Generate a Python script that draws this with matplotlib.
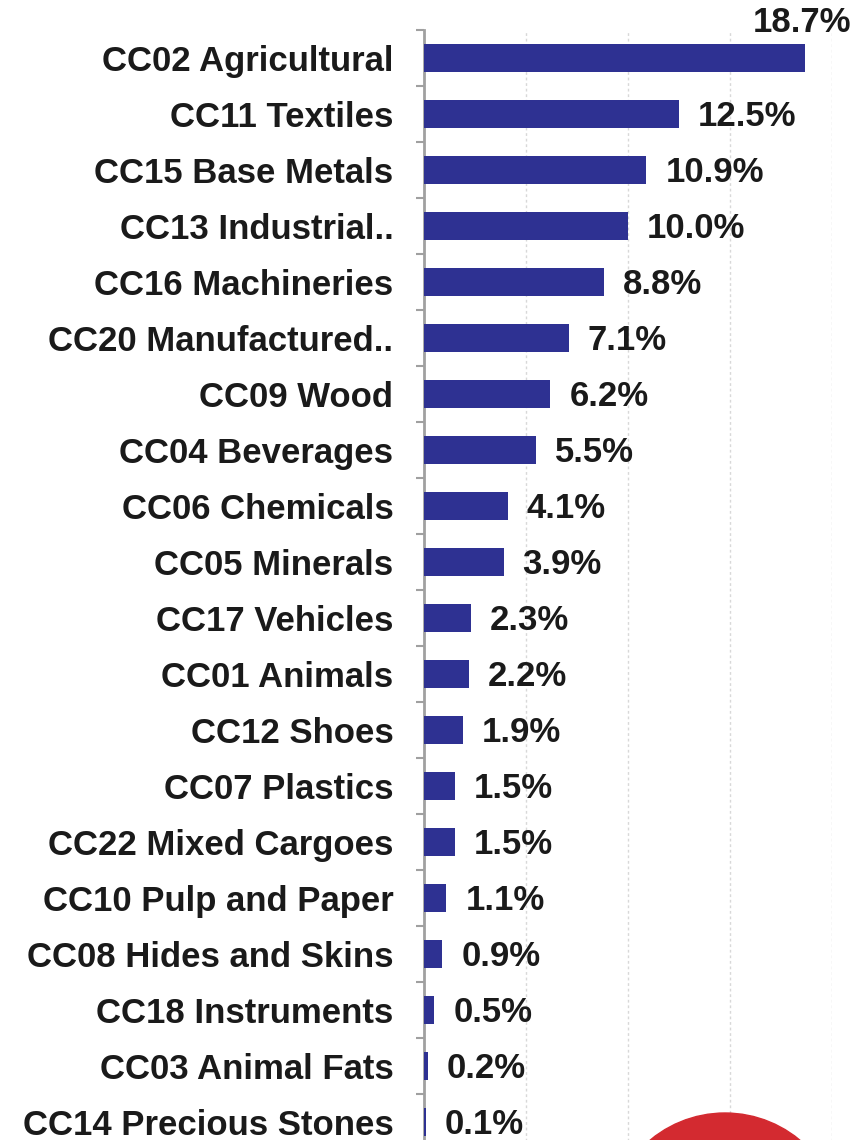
import matplotlib.pyplot as plt
from matplotlib.patches import Ellipse
from matplotlib.ticker import FixedLocator

# 数据
categories = ["CC02 Agricultural", "CC11 Textiles", "CC15 Base Metals", "CC13 Industrial..",
              "CC16 Machineries", "CC20 Manufactured..", "CC09 Wood", "CC04 Beverages",
              "CC06 Chemicals", "CC05 Minerals", "CC17 Vehicles", "CC01 Animals",
              "CC12 Shoes", "CC07 Plastics", "CC22 Mixed Cargoes", "CC10 Pulp and Paper",
              "CC08 Hides and Skins", "CC18 Instruments", "CC03 Animal Fats", "CC14 Precious Stones"]
shares = [18.7, 12.5, 10.9, 10.0, 8.8, 7.1, 6.2, 5.5, 4.1, 3.9,
          2.3, 2.2, 1.9, 1.5, 1.5, 1.1, 0.9, 0.5, 0.2, 0.1]

plt.rcParams['font.family'] = ['Liberation Sans', 'DejaVu Sans']

fig = plt.figure(figsize=(8.59, 11.40), dpi=100)
ax = fig.add_axes([424/859, 1-1150/1140, 408/859, 1120/1140])

y = list(range(len(categories)))
ax.barh(y, shares, height=0.5, color='#2E3192', zorder=3)
ax.set_xlim(0, 20)
ax.set_ylim(len(categories)-0.5, -0.5)

ax.set_yticks(y)
ax.set_yticklabels(categories, fontsize=25, fontweight='bold', color='#1a1a1a')
ax.tick_params(axis='y', which='major', length=0, pad=22)
ax.yaxis.set_minor_locator(FixedLocator([i-0.5 for i in range(len(categories)+1)]))
ax.tick_params(axis='y', which='minor', length=6, width=1.5, color='#a0a0a0')
ax.set_xticks([5, 10, 15, 20])
ax.tick_params(axis='x', length=0, labelbottom=False)
ax.grid(axis='x', linestyle=(0, (2, 2)), color='#d8d8d8', linewidth=1, zorder=0)

for s in ['top', 'right', 'bottom']:
    ax.spines[s].set_visible(False)
ax.spines['left'].set_color('#a0a0a0')
ax.spines['left'].set_linewidth(2)

for i, v in enumerate(shares):
    if i == 0:
        ax.annotate("{:.1f}%".format(v), (v, i), xytext=(-53, 36), textcoords='offset pixels',
                    ha='left', va='center', fontsize=25, fontweight='bold', color='#1a1a1a')
    else:
        ax.annotate("{:.1f}%".format(v), (v, i), xytext=(19, -2), textcoords='offset pixels',
                    ha='left', va='center', fontsize=25, fontweight='bold', color='#1a1a1a')

# 右下角的红色标志
fig.patches.append(Ellipse((725/859, 1-1230/1140), 234/859, 234/1140, transform=fig.transFigure,
                           color='#d32a30', zorder=0))

fig.savefig("out.png", dpi=100)
